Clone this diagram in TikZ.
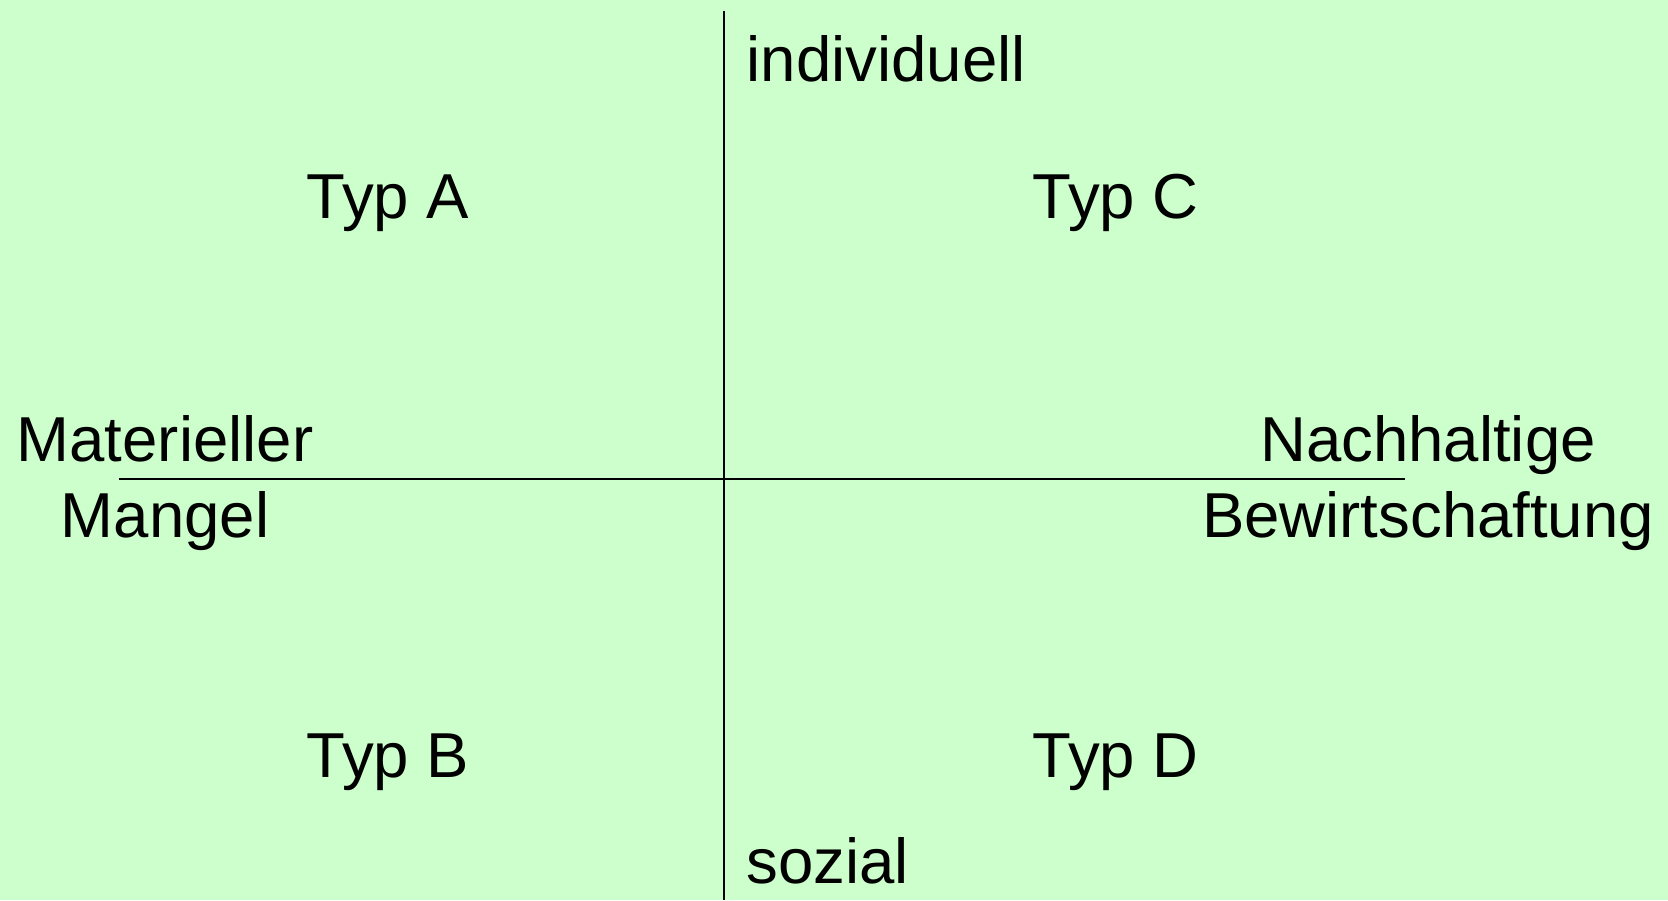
\documentclass[tikz,border=0pt]{standalone}
\usepackage{fontspec}
\setmainfont{Liberation Sans}
\definecolor{bgg}{HTML}{CCFFCC}
\begin{document}
\begin{tikzpicture}[x=0.1mm,y=-0.1mm,
  lbl/.style={inner sep=0pt, font=\fontsize{18.07}{21.6}\selectfont, text=black},
  axis/.style={line width=0.5pt, draw=black}]
\fill[bgg] (0,0) rectangle (1668,900);
\useasboundingbox (0,0) rectangle (1668,900);
\coordinate (vt) at (724,11);
\coordinate (vb) at (724,900);
\coordinate (hl) at (119,479);
\coordinate (hr) at (1405,479);
\draw[axis] (vt) -- (vb);
\draw[axis] (hl) -- (hr);
\node[lbl, anchor=base west] (ind) at (746,82) {individuell};
\node[lbl, anchor=base west] (soz) at (746,883) {sozial};
\node[lbl, anchor=base west] (ta) at (306,218) {Typ A};
\node[lbl, anchor=base west] (tc) at (1032,218) {Typ C};
\node[lbl, anchor=base west] (tb) at (306,777) {Typ B};
\node[lbl, anchor=base west] (td) at (1032,777) {Typ D};
\node[lbl, anchor=base] (m1) at (165,461) {Materieller};
\node[lbl, anchor=base] (m2) at (165,537) {Mangel};
\node[lbl, anchor=base] (n1) at (1428,461) {Nachhaltige};
\node[lbl, anchor=base] (n2) at (1428,537) {Bewirtschaftung};
\end{tikzpicture}
\end{document}
